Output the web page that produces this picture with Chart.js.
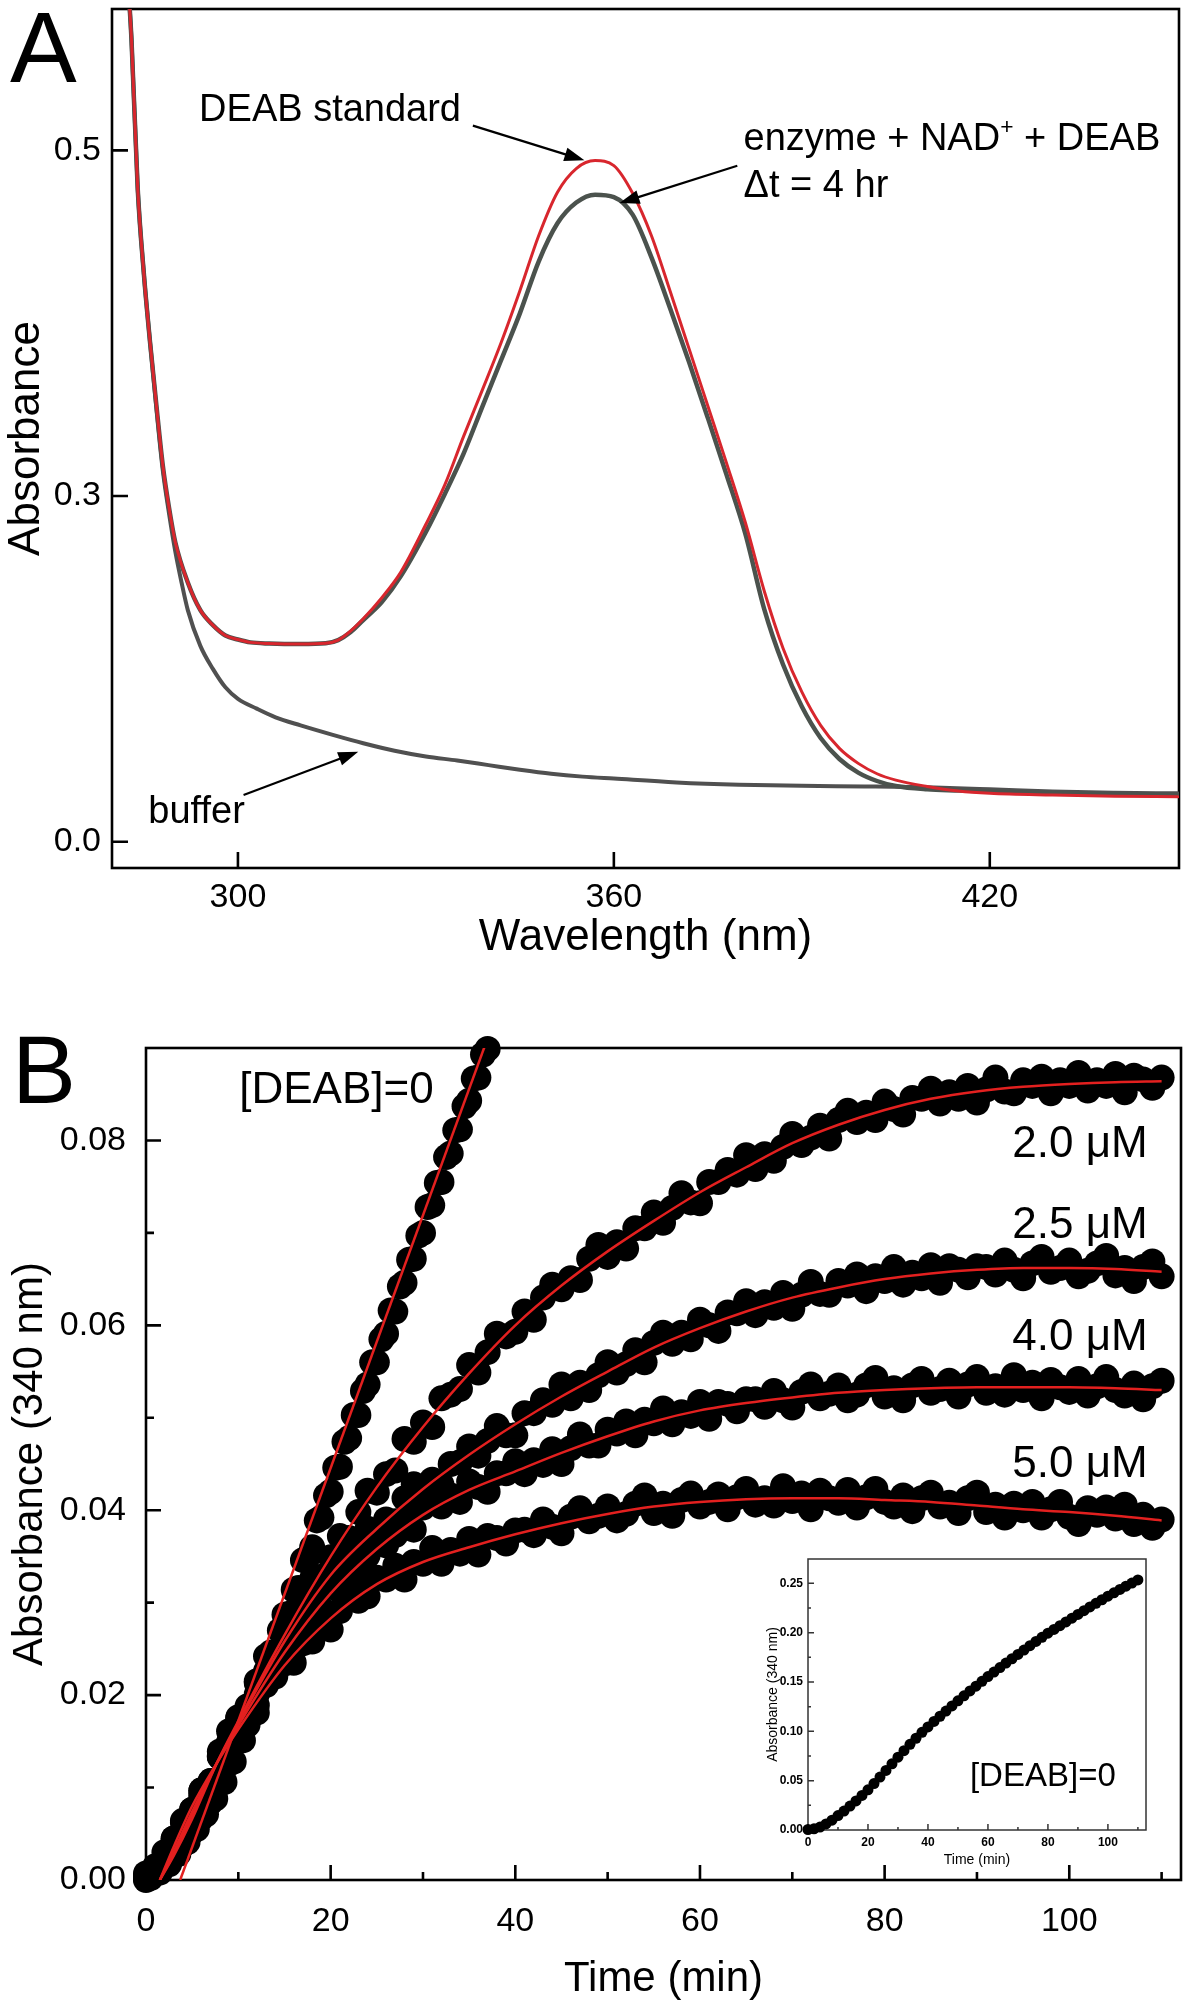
<!DOCTYPE html>
<html>
<head>
<meta charset="utf-8">
<title>DEAB spectra and kinetics</title>
<script src="https://cdn.jsdelivr.net/npm/chart.js@4.4.1/dist/chart.umd.min.js"></script>
<style>
  html, body { margin: 0; padding: 0; background: #fff; }
  #page { position: relative; width: 1189px; height: 2010px; overflow: hidden; background: #fff; }
  #page canvas { position: absolute; }
</style>
</head>
<body>
<div id="page">
  <canvas id="panelA" width="1189" height="980" style="left:0;top:0"></canvas>
  <canvas id="panelB" width="1189" height="1030" style="left:0;top:980px"></canvas>
  <canvas id="inset" width="430" height="390" style="left:740px;top:1490px"></canvas>
</div>
<script>
// ---- Panel A: absorbance spectra ----
// wavelength grid shared by the DEAB standard and the enzyme scans (nm)
const specWl = [282, 283, 284, 285, 286, 287, 288, 289, 290, 292, 294, 296, 298, 300, 302, 305, 310, 314, 316, 318,
  320, 323, 326, 330, 333, 336, 339, 342, 345, 348, 351, 354, 357, 360, 363, 366, 369, 372, 375, 378,
  381, 384, 387, 390, 393, 396, 399, 402, 405, 410, 415, 420, 430, 440, 450];
// DEAB standard (red trace)
const stdAbs = [0.620, 0.565, 0.478, 0.428, 0.388, 0.352, 0.318, 0.290, 0.260, 0.225, 0.201, 0.188, 0.179, 0.1755, 0.1730, 0.1720, 0.1715, 0.1722, 0.1750, 0.1830,
  0.1935, 0.2120, 0.2340, 0.2755, 0.3063, 0.3344, 0.3613, 0.3887, 0.4188, 0.4506, 0.4758, 0.4895, 0.4941, 0.4912, 0.4752, 0.4506, 0.4183, 0.3853, 0.3521, 0.3189,
  0.2768, 0.2176, 0.168, 0.130, 0.101, 0.081, 0.068, 0.059, 0.0535, 0.048, 0.044, 0.042, 0.0405, 0.0395, 0.039];
// enzyme + NAD+ + DEAB after 4 hr (grey traces)
const enzAbs = [0.620, 0.565, 0.478, 0.428, 0.388, 0.352, 0.318, 0.290, 0.260, 0.225, 0.201, 0.188, 0.179, 0.1755, 0.1730, 0.1720, 0.1715, 0.1722, 0.1750, 0.1820,
  0.1924, 0.2083, 0.2306, 0.2689, 0.3011, 0.3244, 0.3516, 0.3786, 0.4057, 0.4357, 0.4578, 0.4698, 0.4744, 0.4730, 0.4628, 0.4381, 0.4084, 0.3775, 0.3452, 0.3122,
  0.2670, 0.2019, 0.1538, 0.1173, 0.090, 0.0718, 0.060, 0.0527, 0.0483, 0.0455, 0.0445, 0.0435, 0.042, 0.041, 0.0405];
// buffer baseline
const bufWl = [282, 283, 284, 285, 286, 287, 288, 289, 290, 291, 292, 294, 296, 298, 300, 303, 306, 310, 315, 320, 325,
  330, 335, 340, 345, 350, 355, 360, 370, 380, 390, 400, 410, 420, 430, 440, 450];
const bufAbs = [0.620, 0.565, 0.478, 0.428, 0.388, 0.350, 0.315, 0.285, 0.252, 0.225, 0.201, 0.170, 0.150, 0.134, 0.124, 0.1155, 0.108, 0.101, 0.093, 0.0855, 0.079,
  0.074, 0.0705, 0.0665, 0.0625, 0.059, 0.0565, 0.0548, 0.0515, 0.0495, 0.0485, 0.048, 0.0472, 0.0455, 0.0435, 0.0425, 0.042];
const wlTicks = [300, 360, 420];
const absTicksA = [0.0, 0.3, 0.5];

// ---- Panel B: time courses at 340 nm ----
const minutes = [0, 1, 2, 3, 4, 5, 6, 7, 8, 9, 10, 11, 12, 13, 14, 15, 16, 17, 18, 19, 20, 21, 22, 23, 24, 25, 26, 27, 28, 29,
  30, 31, 32, 33, 34, 35, 36, 37, 38, 39, 40, 41, 42, 43, 44, 45, 46, 47, 48, 49, 50, 51, 52, 53, 54, 55, 56, 57, 58, 59,
  60, 61, 62, 63, 64, 65, 66, 67, 68, 69, 70, 71, 72, 73, 74, 75, 76, 77, 78, 79, 80, 81, 82, 83, 84, 85, 86, 87, 88, 89,
  90, 91, 92, 93, 94, 95, 96, 97, 98, 99, 100, 101, 102, 103, 104, 105, 106, 107, 108, 109, 110];
const abs20 = [0.0004, 0.0009, 0.0030, 0.0040, 0.0052, 0.0076, 0.0097, 0.0107, 0.0133, 0.0161,
  0.0163, 0.0188, 0.0215, 0.0242, 0.0239, 0.0267, 0.0270, 0.0303, 0.0326, 0.0328,
  0.0349, 0.0372, 0.0370, 0.0398, 0.0421, 0.0419, 0.0439, 0.0443, 0.0477, 0.0474,
  0.0495, 0.0490, 0.0521, 0.0525, 0.0531, 0.0557, 0.0549, 0.0571, 0.0591, 0.0588,
  0.0593, 0.0615, 0.0606, 0.0630, 0.0644, 0.0639, 0.0651, 0.0649, 0.0672, 0.0687,
  0.0674, 0.0690, 0.0683, 0.0705, 0.0705, 0.0722, 0.0711, 0.0727, 0.0743, 0.0733,
  0.0732, 0.0755, 0.0755, 0.0768, 0.0763, 0.0784, 0.0769, 0.0785, 0.0778, 0.0793,
  0.0807, 0.0795, 0.0803, 0.0816, 0.0802, 0.0822, 0.0832, 0.0820, 0.0830, 0.0822,
  0.0842, 0.0834, 0.0828, 0.0846, 0.0845, 0.0856, 0.0840, 0.0852, 0.0845, 0.0859,
  0.0841, 0.0855, 0.0868, 0.0853, 0.0851, 0.0865, 0.0859, 0.0869, 0.0851, 0.0865,
  0.0859, 0.0873, 0.0854, 0.0865, 0.0859, 0.0872, 0.0852, 0.0870, 0.0866, 0.0857, 0.0868];
const abs25 = [0.0002, 0.0015, 0.0021, 0.0042, 0.0062, 0.0071, 0.0091, 0.0105, 0.0139, 0.0149,
  0.0175, 0.0176, 0.0213, 0.0223, 0.0235, 0.0267, 0.0263, 0.0289, 0.0313, 0.0314,
  0.0323, 0.0346, 0.0339, 0.0364, 0.0380, 0.0376, 0.0390, 0.0388, 0.0413, 0.0428,
  0.0417, 0.0433, 0.0428, 0.0450, 0.0452, 0.0469, 0.0459, 0.0475, 0.0491, 0.0481,
  0.0481, 0.0505, 0.0505, 0.0519, 0.0514, 0.0536, 0.0521, 0.0538, 0.0530, 0.0546,
  0.0560, 0.0549, 0.0558, 0.0573, 0.0560, 0.0581, 0.0592, 0.0580, 0.0592, 0.0585,
  0.0606, 0.0600, 0.0594, 0.0614, 0.0613, 0.0626, 0.0611, 0.0625, 0.0619, 0.0635,
  0.0618, 0.0633, 0.0647, 0.0634, 0.0633, 0.0648, 0.0643, 0.0655, 0.0637, 0.0653,
  0.0648, 0.0663, 0.0644, 0.0657, 0.0651, 0.0665, 0.0646, 0.0664, 0.0660, 0.0652,
  0.0664, 0.0663, 0.0655, 0.0670, 0.0660, 0.0651, 0.0667, 0.0674, 0.0658, 0.0662,
  0.0670, 0.0653, 0.0659, 0.0667, 0.0675, 0.0654, 0.0662, 0.0648, 0.0663, 0.0669, 0.0653];
const abs40 = [0.0000, 0.0012, 0.0022, 0.0045, 0.0064, 0.0071, 0.0093, 0.0104, 0.0134, 0.0149,
  0.0176, 0.0175, 0.0201, 0.0226, 0.0225, 0.0234, 0.0265, 0.0272, 0.0293, 0.0294,
  0.0323, 0.0313, 0.0334, 0.0331, 0.0351, 0.0370, 0.0362, 0.0373, 0.0390, 0.0379,
  0.0403, 0.0415, 0.0404, 0.0416, 0.0409, 0.0431, 0.0425, 0.0420, 0.0440, 0.0440,
  0.0453, 0.0439, 0.0454, 0.0449, 0.0466, 0.0450, 0.0467, 0.0482, 0.0470, 0.0470,
  0.0487, 0.0483, 0.0496, 0.0481, 0.0498, 0.0494, 0.0510, 0.0493, 0.0506, 0.0502,
  0.0517, 0.0499, 0.0517, 0.0515, 0.0507, 0.0520, 0.0520, 0.0512, 0.0529, 0.0519,
  0.0511, 0.0528, 0.0536, 0.0521, 0.0526, 0.0535, 0.0519, 0.0525, 0.0535, 0.0543,
  0.0523, 0.0532, 0.0519, 0.0535, 0.0542, 0.0527, 0.0531, 0.0540, 0.0523, 0.0536,
  0.0544, 0.0527, 0.0534, 0.0525, 0.0546, 0.0530, 0.0538, 0.0521, 0.0541, 0.0533,
  0.0528, 0.0542, 0.0524, 0.0534, 0.0544, 0.0530, 0.0524, 0.0537, 0.0520, 0.0534, 0.0540];
const abs50 = [0.0007, 0.0009, 0.0025, 0.0045, 0.0052, 0.0076, 0.0097, 0.0107, 0.0134, 0.0140,
  0.0172, 0.0176, 0.0181, 0.0211, 0.0220, 0.0243, 0.0235, 0.0256, 0.0258, 0.0281,
  0.0271, 0.0291, 0.0311, 0.0302, 0.0307, 0.0327, 0.0325, 0.0340, 0.0325, 0.0344,
  0.0342, 0.0359, 0.0342, 0.0357, 0.0353, 0.0369, 0.0352, 0.0372, 0.0370, 0.0364,
  0.0378, 0.0379, 0.0373, 0.0390, 0.0382, 0.0375, 0.0393, 0.0402, 0.0388, 0.0394,
  0.0404, 0.0389, 0.0396, 0.0407, 0.0416, 0.0397, 0.0407, 0.0394, 0.0411, 0.0418,
  0.0404, 0.0409, 0.0417, 0.0401, 0.0414, 0.0423, 0.0406, 0.0413, 0.0405, 0.0426,
  0.0410, 0.0418, 0.0401, 0.0421, 0.0413, 0.0408, 0.0422, 0.0403, 0.0414, 0.0423,
  0.0409, 0.0404, 0.0416, 0.0399, 0.0413, 0.0419, 0.0404, 0.0408, 0.0397, 0.0413,
  0.0419, 0.0398, 0.0406, 0.0392, 0.0407, 0.0400, 0.0409, 0.0392, 0.0401, 0.0409,
  0.0393, 0.0385, 0.0402, 0.0395, 0.0403, 0.0391, 0.0406, 0.0385, 0.0395, 0.0381, 0.0390];
// [DEAB]=0 run, first 37 min only (the full run is in the inset)
const halfMinutes = [0, 0.5, 1, 1.5, 2, 2.5, 3, 3.5, 4, 4.5, 5, 5.5, 6, 6.5, 7, 7.5, 8, 8.5, 9, 9.5,
  10, 10.5, 11, 11.5, 12, 12.5, 13, 13.5, 14, 14.5, 15, 15.5, 16, 16.5, 17, 17.5, 18, 18.5, 19, 19.5,
  20, 20.5, 21, 21.5, 22, 22.5, 23, 23.5, 24, 24.5, 25, 25.5, 26, 26.5, 27, 27.5, 28, 28.5, 29, 29.5,
  30, 30.5, 31, 31.5, 32, 32.5, 33, 33.5, 34, 34.5, 35, 35.5, 36, 36.5, 37];
const abs0 = [0.0003, 0.0002, 0.0009, 0.0008, 0.0016, 0.0017, 0.0026, 0.0028, 0.0038, 0.0041,
  0.0052, 0.0055, 0.0067, 0.0071, 0.0084, 0.0088, 0.0108, 0.0106, 0.0126, 0.0128,
  0.0152, 0.0151, 0.0168, 0.0190, 0.0189, 0.0216, 0.0220, 0.0246, 0.0245, 0.0270,
  0.0287, 0.0288, 0.0314, 0.0316, 0.0346, 0.0349, 0.0360, 0.0389, 0.0392, 0.0416,
  0.0420, 0.0446, 0.0447, 0.0474, 0.0478, 0.0503, 0.0503, 0.0529, 0.0536, 0.0560,
  0.0560, 0.0585, 0.0591, 0.0616, 0.0615, 0.0642, 0.0646, 0.0671, 0.0672, 0.0697,
  0.0700, 0.0728, 0.0730, 0.0754, 0.0755, 0.0782, 0.0786, 0.0811, 0.0812, 0.0837,
  0.0843, 0.0867, 0.0868, 0.0893, 0.0899];
// fitted curves (red)
const fitMin = [1.5, 3, 5, 7.7, 10, 15, 20, 25, 30, 35, 40, 45, 50, 55, 60, 65, 70, 75, 80, 85, 90, 95, 100, 105, 110];
const fit20 = [0, 0.0026, 0.0066, 0.0127, 0.0172, 0.0265, 0.0350, 0.0425, 0.0490, 0.0548, 0.0600, 0.0643, 0.0680, 0.0713, 0.0744, 0.0771, 0.0797, 0.0817, 0.0833, 0.0845, 0.0853, 0.0858, 0.0861, 0.0863, 0.0864];
const fit25 = [0, 0.0028, 0.0070, 0.0127, 0.0170, 0.0258, 0.0330, 0.0380, 0.0423, 0.0460, 0.0493, 0.0523, 0.0550, 0.0576, 0.0597, 0.0615, 0.0630, 0.0641, 0.0650, 0.0656, 0.0660, 0.0662, 0.0662, 0.0661, 0.0658];
const fit40 = [0, 0.0031, 0.0074, 0.0127, 0.0167, 0.0246, 0.0310, 0.0358, 0.0395, 0.0422, 0.0442, 0.0462, 0.0480, 0.0496, 0.0508, 0.0516, 0.0522, 0.0527, 0.0530, 0.0532, 0.0533, 0.0533, 0.0533, 0.0532, 0.0530];
const fit50 = [0, 0.0036, 0.0080, 0.0127, 0.0163, 0.0232, 0.0283, 0.0320, 0.0344, 0.0360, 0.0374, 0.0386, 0.0396, 0.0404, 0.0409, 0.0412, 0.0413, 0.0413, 0.0411, 0.0409, 0.0405, 0.0401, 0.0398, 0.0394, 0.0389];
const fit0Min = [3.7, 36.8];
const fit0 = [0, 0.0905];
const minTicks = [0, 20, 40, 60, 80, 100];
const minMinor = [10, 30, 50, 70, 90, 110];
const absTicksB = [0, 0.02, 0.04, 0.06, 0.08];
const absMinorB = [0.01, 0.03, 0.05, 0.07];

// ---- Inset: full [DEAB]=0 run ----
const insetMinutes = [0, 2, 4, 6, 8, 10, 12, 14, 16, 18, 20, 22, 24, 26, 28, 30, 32, 34, 36, 38,
  40, 42, 44, 46, 48, 50, 52, 54, 56, 58, 60, 62, 64, 66, 68, 70, 72, 74, 76, 78,
  80, 82, 84, 86, 88, 90, 92, 94, 96, 98, 100, 102, 104, 106, 108, 110];
const insetAbs = [0.0005, 0.0012, 0.0030, 0.0062, 0.0100, 0.0146, 0.0192, 0.0243, 0.0295, 0.0350,
  0.0407, 0.0471, 0.0537, 0.0604, 0.0671, 0.0738, 0.0804, 0.0868, 0.0930, 0.0990,
  0.1045, 0.1100, 0.1153, 0.1205, 0.1258, 0.1310, 0.1360, 0.1410, 0.1458, 0.1507,
  0.1555, 0.1601, 0.1647, 0.1692, 0.1736, 0.1780, 0.1824, 0.1868, 0.1911, 0.1953,
  0.1995, 0.2033, 0.2071, 0.2109, 0.2147, 0.2185, 0.2223, 0.2261, 0.2298, 0.2334,
  0.2370, 0.2404, 0.2438, 0.2471, 0.2503, 0.2535];
const insetMinor = [10, 30, 50, 70, 90, 110];
const insetAbsTicks = [0, 0.05, 0.10, 0.15, 0.20, 0.25];
const insetAbsMinor = [0.025, 0.075, 0.125, 0.175, 0.225];

const FAMILY = "'Liberation Sans', Arial, Helvetica, sans-serif";
Chart.defaults.font.family = FAMILY;
Chart.defaults.color = '#000';

// pairs two arrays into {x, y} points
const pts = (xs, ys) => xs.map((x, i) => ({ x: x, y: ys[i] }));

// The absorbance axis of panel A is printed 0.0 / 0.3 / 0.5 with equal spacing,
// so the part above 0.3 is stretched; this scale reproduces that spacing.
const SPLIT_AT = 0.3;
const SPLIT_STRETCH = 1.5;
const warpY = v => (v <= SPLIT_AT ? v : SPLIT_AT + (v - SPLIT_AT) * SPLIT_STRETCH);
const unwarpY = u => (u <= SPLIT_AT ? u : SPLIT_AT + (u - SPLIT_AT) / SPLIT_STRETCH);

class SplitLinearScale extends Chart.LinearScale {
  static id = 'splitLinear';
  getPixelForValue(value) {
    const lo = warpY(this.min), hi = warpY(this.max);
    return this.getPixelForDecimal((warpY(value) - lo) / (hi - lo));
  }
  getValueForPixel(pixel) {
    const lo = warpY(this.min), hi = warpY(this.max);
    return unwarpY(lo + this.getDecimalForPixel(pixel) * (hi - lo));
  }
}
Chart.register(SplitLinearScale);

// draws the closed frame and the inward tick marks
const framePlugin = {
  id: 'frame',
  beforeDatasetsDraw(chart, args, opts) {
    const { ctx, chartArea: a } = chart;
    const sx = chart.scales.x, sy = chart.scales.y;
    ctx.save();
    ctx.strokeStyle = opts.color;
    ctx.lineWidth = opts.lineWidth;
    ctx.strokeRect(a.left, a.top, a.right - a.left, a.bottom - a.top);
    ctx.beginPath();
    const xTicks = (vals, len) => vals.forEach(v => {
      const p = sx.getPixelForValue(v);
      ctx.moveTo(p, a.bottom);
      ctx.lineTo(p, a.bottom - len);
    });
    const yTicks = (vals, len) => vals.forEach(v => {
      const p = sy.getPixelForValue(v);
      ctx.moveTo(a.left, p);
      ctx.lineTo(a.left + len, p);
    });
    xTicks(opts.xMajor || [], opts.majorLen);
    xTicks(opts.xMinor || [], opts.minorLen);
    yTicks(opts.yMajor || [], opts.majorLen);
    yTicks(opts.yMinor || [], opts.minorLen);
    ctx.stroke();
    ctx.restore();
  }
};

// text labels and arrows, placed in data coordinates (or canvas pixels for panel letters)
const notesPlugin = {
  id: 'notes',
  afterDatasetsDraw(chart, args, opts) {
    const ctx = chart.ctx;
    const sx = chart.scales.x, sy = chart.scales.y;
    (opts.items || []).forEach(item => {
      const px = item.px !== undefined ? item.px : sx.getPixelForValue(item.x);
      const py = item.py !== undefined ? item.py : sy.getPixelForValue(item.y);
      ctx.save();
      ctx.fillStyle = '#000';
      ctx.strokeStyle = '#000';
      if (item.to) {
        const ex = sx.getPixelForValue(item.to[0]);
        const ey = sy.getPixelForValue(item.to[1]);
        const ang = Math.atan2(ey - py, ex - px);
        const c = Math.cos(ang), s = Math.sin(ang);
        const head = 20, half = 7;
        ctx.lineWidth = 2.2;
        ctx.beginPath();
        ctx.moveTo(px, py);
        ctx.lineTo(ex - c * head * 0.7, ey - s * head * 0.7);
        ctx.stroke();
        ctx.beginPath();
        ctx.moveTo(ex, ey);
        ctx.lineTo(ex - c * head + s * half, ey - s * head - c * half);
        ctx.lineTo(ex - c * head - s * half, ey - s * head + c * half);
        ctx.closePath();
        ctx.fill();
      } else {
        ctx.textBaseline = 'alphabetic';
        ctx.textAlign = item.align || 'left';
        let cx = px;
        const parts = item.parts || [{ t: item.text }];
        parts.forEach(part => {
          const size = part.sup ? item.size * 0.6 : item.size;
          ctx.font = size + 'px ' + FAMILY;
          ctx.fillText(part.t, cx, part.sup ? py - item.size * 0.42 : py);
          cx += ctx.measureText(part.t).width;
        });
      }
      ctx.restore();
    });
  }
};

// fixes an axis box size and drops the edge padding the labels would ask for
const fixBox = (w, h) => s => {
  if (w !== undefined) s.width = w;
  if (h !== undefined) s.height = h;
  s.paddingTop = 0; s.paddingBottom = 0; s.paddingLeft = 0; s.paddingRight = 0;
};

// common axis settings: fixed box size, no library grid or border
function axisOpts(cfg) {
  return {
    type: cfg.type || 'linear',
    min: cfg.min,
    max: cfg.max,
    grid: { display: false, drawTicks: false },
    border: { display: false },
    afterFit: cfg.fit,
    afterBuildTicks: s => { s.ticks = cfg.ticks.map(v => ({ value: v })); },
    ticks: {
      autoSkip: false, maxRotation: 0, minRotation: 0,
      padding: cfg.tickPad,
      color: '#000',
      font: { size: cfg.tickSize, weight: cfg.tickWeight || 'normal', lineHeight: 1.2 },
      callback: cfg.fmt
    },
    title: {
      display: true, text: cfg.title, color: '#000',
      font: { size: cfg.titleSize, lineHeight: 1.2 },
      padding: cfg.titlePad
    }
  };
}

const baseOpts = {
  responsive: false,
  animation: false,
  devicePixelRatio: 1,
  events: [],
  plugins: { legend: { display: false }, tooltip: { enabled: false } }
};

// ---- Panel A chart ----
new Chart(document.getElementById('panelA'), {
  type: 'line',
  data: {
    datasets: [
      { data: pts(specWl, stdAbs), borderColor: '#d8262d', borderWidth: 3, order: 0 },
      { data: pts(specWl, enzAbs), borderColor: '#4b524d', borderWidth: 4.5, order: 1 },
      { data: pts(bufWl, bufAbs), borderColor: '#505050', borderWidth: 4, order: 2 }
    ].map(d => Object.assign(d, { pointRadius: 0, cubicInterpolationMode: 'monotone', borderJoinStyle: 'round', borderCapStyle: 'round' }))
  },
  options: Object.assign({}, baseOpts, {
    layout: { padding: { top: 9, right: 10, left: 0, bottom: 0 }, autoPadding: false },
    scales: {
      x: axisOpts({ min: 279.9, max: 450.2, ticks: wlTicks, fmt: v => String(v),
        fit: fixBox(undefined, 112), tickPad: 9, tickSize: 34,
        title: 'Wavelength (nm)', titleSize: 44, titlePad: { top: 0, bottom: 16 } }),
      y: axisOpts({ type: 'splitLinear', min: -0.0228, max: 0.5818, ticks: absTicksA, fmt: v => v.toFixed(1),
        fit: fixBox(112, undefined), tickPad: 11, tickSize: 34,
        title: 'Absorbance', titleSize: 44, titlePad: { top: 0, bottom: 0 } })
    },
    plugins: Object.assign({}, baseOpts.plugins, {
      frame: { color: '#000', lineWidth: 2.6, xMajor: wlTicks, yMajor: absTicksA, majorLen: 16 },
      notes: { items: [
        { px: 10, py: 82, size: 100, text: 'A' },
        { x: 293.8, y: 0.517, size: 38, text: 'DEAB standard' },
        { x: 337.5, y: 0.5143, to: [355.3, 0.4943] },
        { x: 380.7, y: 0.500, size: 38, parts: [{ t: 'enzyme + NAD' }, { t: '+', sup: true }, { t: ' + DEAB' }] },
        { x: 380.7, y: 0.4733, size: 38, text: '\u0394t = 4 hr' },
        { x: 379.7, y: 0.4911, to: [360.9, 0.4695] },
        { x: 285.7, y: 0.0162, size: 38, text: 'buffer' },
        { x: 300.9, y: 0.0405, to: [319.2, 0.0781] }
      ] }
    })
  }),
  plugins: [framePlugin, notesPlugin]
});

// ---- Panel B chart ----
const dots = (xs, ys) => ({ type: 'scatter', data: pts(xs, ys), pointRadius: 13, pointBackgroundColor: '#000', pointBorderWidth: 0, borderWidth: 0, clip: false, order: 1 });
const fitLine = (xs, ys) => ({ type: 'line', data: pts(xs, ys), borderColor: '#e3201f', borderWidth: 2.5, pointRadius: 0, cubicInterpolationMode: 'monotone', order: 0 });

new Chart(document.getElementById('panelB'), {
  type: 'scatter',
  data: {
    datasets: [
      dots(halfMinutes, abs0), dots(minutes, abs20), dots(minutes, abs25), dots(minutes, abs40), dots(minutes, abs50),
      fitLine(fit0Min, fit0), fitLine(fitMin, fit20), fitLine(fitMin, fit25), fitLine(fitMin, fit40), fitLine(fitMin, fit50)
    ]
  },
  options: Object.assign({}, baseOpts, {
    layout: { padding: { top: 68, right: 8, left: 0, bottom: 0 }, autoPadding: false },
    scales: {
      x: axisOpts({ min: 0, max: 112.1, ticks: minTicks, fmt: v => String(v),
        fit: fixBox(undefined, 130), tickPad: 21, tickSize: 34,
        title: 'Time (min)', titleSize: 42, titlePad: { top: 0, bottom: 5 } }),
      y: axisOpts({ min: 0, max: 0.09, ticks: absTicksB, fmt: v => v.toFixed(2),
        fit: fixBox(146, undefined), tickPad: 20, tickSize: 34,
        title: 'Absorbance (340 nm)', titleSize: 42, titlePad: { top: 5, bottom: 0 } })
    },
    plugins: Object.assign({}, baseOpts.plugins, {
      frame: { color: '#000', lineWidth: 2.6, xMajor: minTicks, xMinor: minMinor, yMajor: absTicksB, yMinor: absMinorB, majorLen: 15, minorLen: 8 },
      notes: { items: [
        { px: 12, py: 123, size: 96, text: 'B' },
        { x: 10.1, y: 0.0840, size: 44, text: '[DEAB]=0' },
        { x: 108.5, y: 0.0782, size: 44, align: 'right', text: '2.0 \u03bcM' },
        { x: 108.5, y: 0.0694, size: 44, align: 'right', text: '2.5 \u03bcM' },
        { x: 108.5, y: 0.0573, size: 44, align: 'right', text: '4.0 \u03bcM' },
        { x: 108.5, y: 0.0436, size: 44, align: 'right', text: '5.0 \u03bcM' }
      ] }
    })
  }),
  plugins: [framePlugin, notesPlugin]
});

// ---- Inset chart ----
new Chart(document.getElementById('inset'), {
  type: 'scatter',
  data: {
    datasets: [{ data: pts(insetMinutes, insetAbs), pointRadius: 5.5, pointBackgroundColor: '#000', pointBorderWidth: 0, borderWidth: 0, clip: false }]
  },
  options: Object.assign({}, baseOpts, {
    layout: { padding: { top: 69, right: 24, left: 0, bottom: 0 }, autoPadding: false },
    scales: {
      x: axisOpts({ min: 0, max: 112.7, ticks: minTicks, fmt: v => String(v),
        fit: fixBox(undefined, 50), tickPad: 5, tickSize: 12, tickWeight: 'bold',
        title: 'Time (min)', titleSize: 14, titlePad: { top: 0, bottom: 11 } }),
      y: axisOpts({ min: 0, max: 0.2747, ticks: insetAbsTicks, fmt: v => v.toFixed(2),
        fit: fixBox(68, undefined), tickPad: 5, tickSize: 12, tickWeight: 'bold',
        title: 'Absorbance (340 nm)', titleSize: 14, titlePad: { top: 25, bottom: 0 } })
    },
    plugins: Object.assign({}, baseOpts.plugins, {
      frame: { color: '#333', lineWidth: 1.5, xMajor: minTicks, xMinor: insetMinor, yMajor: insetAbsTicks, yMinor: insetAbsMinor, majorLen: 6, minorLen: 3 },
      notes: { items: [
        { x: 54, y: 0.045, size: 33, text: '[DEAB]=0' }
      ] }
    })
  }),
  plugins: [framePlugin, notesPlugin]
});
</script>
</body>
</html>
